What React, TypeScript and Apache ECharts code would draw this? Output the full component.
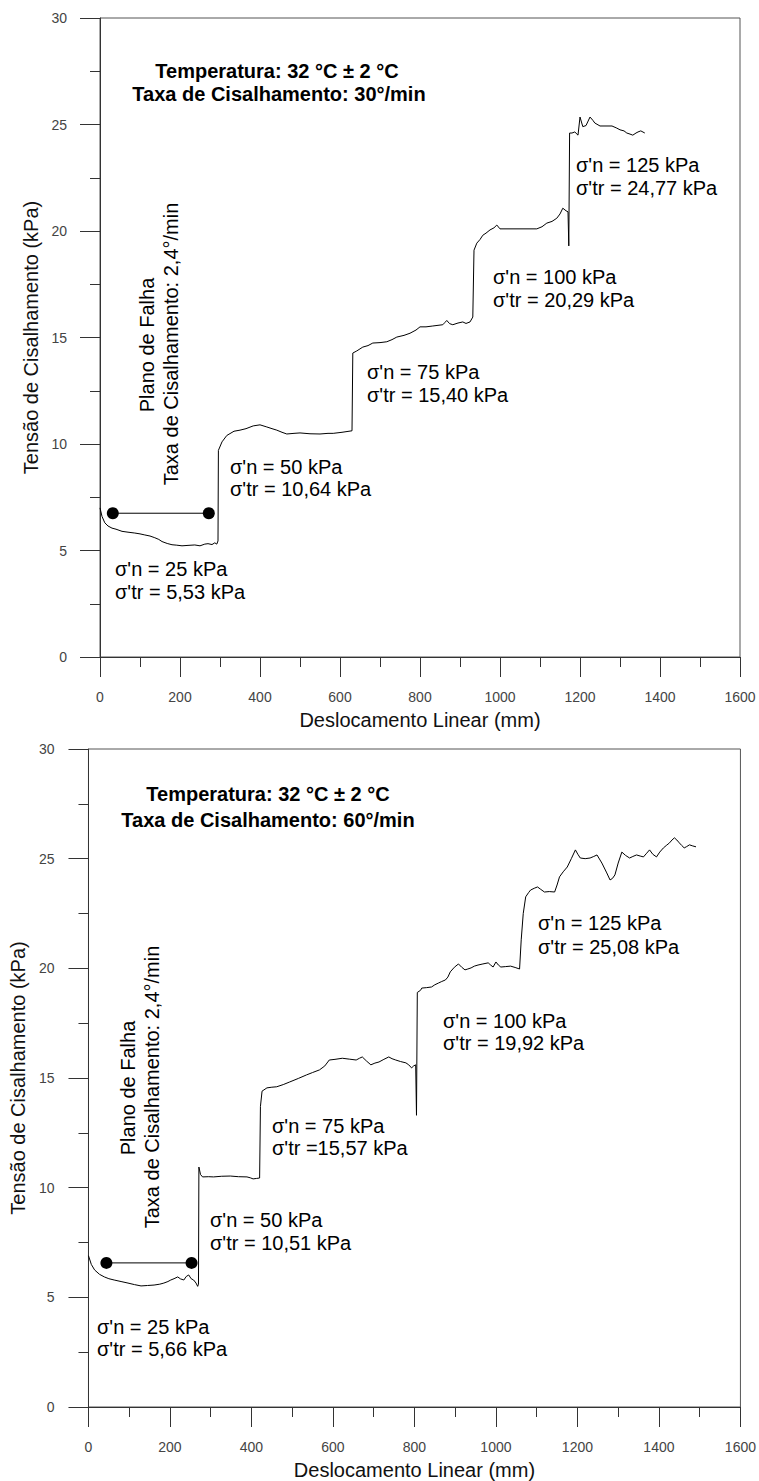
import React, { useEffect, useRef } from "react";
import * as echarts from "echarts";

// ---------- data ----------
const xTicks = [0, 200, 400, 600, 800, 1000, 1200, 1400, 1600];
const yTicks = [0, 5, 10, 15, 20, 25, 30];

// Chart 1: 30°/min
const curve30: number[][] = [
  [0, 7.0], [5, 6.6], [12, 6.3], [20, 6.15], [30, 6.05], [40, 6.0], [55, 5.9], [70, 5.86], [87, 5.82],
  [100, 5.78], [112, 5.73], [125, 5.68], [137, 5.6], [147, 5.52], [155, 5.42], [168, 5.33], [180, 5.27],
  [192, 5.25], [205, 5.22], [220, 5.24], [237, 5.26], [250, 5.22], [262, 5.3], [270, 5.32], [280, 5.28],
  [287, 5.36], [292, 5.3], [295, 5.45], [296, 9.7], [305, 10.1], [317, 10.4], [335, 10.6], [350, 10.65],
  [365, 10.72], [383, 10.85], [400, 10.9], [417, 10.8], [430, 10.72], [442, 10.65], [455, 10.55],
  [467, 10.47], [485, 10.5], [500, 10.52], [525, 10.48], [550, 10.47], [570, 10.5], [583, 10.5],
  [605, 10.55], [630, 10.62], [632, 14.27], [642, 14.37], [657, 14.55], [670, 14.62], [682, 14.74],
  [700, 14.76], [717, 14.8], [730, 14.9], [742, 15.02], [760, 15.1], [775, 15.2], [790, 15.35],
  [800, 15.5], [815, 15.5], [832, 15.54], [857, 15.6], [862, 15.7], [867, 15.8], [874, 15.65],
  [882, 15.6], [895, 15.68], [907, 15.73], [915, 15.66], [925, 15.73], [932, 15.96], [935, 19.1],
  [942, 19.43], [950, 19.6], [957, 19.8], [965, 19.9], [975, 20.05], [985, 20.15], [992, 20.28],
  [1000, 20.1], [1092, 20.1], [1105, 20.2], [1117, 20.37], [1130, 20.45], [1142, 20.6],
  [1150, 20.8], [1157, 21.07], [1165, 20.95], [1170, 20.9], [1172, 19.3], [1174, 24.6],
  [1180, 24.6], [1187, 24.65], [1195, 24.5], [1200, 25.35], [1207, 24.9], [1215, 24.95],
  [1225, 25.35], [1232, 25.2], [1237, 25.07], [1250, 24.93], [1265, 24.93], [1280, 24.93],
  [1292, 24.83], [1300, 24.75], [1310, 24.7], [1317, 24.6], [1325, 24.55], [1332, 24.5],
  [1340, 24.6], [1345, 24.65], [1352, 24.7], [1362, 24.6],
];
const failure30: number[][] = [[32, 6.75], [272, 6.75]];

// Chart 2: 60°/min
const curve60: number[][] = [
  [0, 6.9], [7, 6.5], [15, 6.25], [27, 6.05], [39, 5.93], [50, 5.85], [63, 5.79], [80, 5.72],
  [97, 5.65], [113, 5.58], [129, 5.52], [145, 5.54], [161, 5.56], [175, 5.6], [185, 5.65],
  [195, 5.72], [202, 5.79], [210, 5.85], [219, 5.93], [226, 5.84], [234, 5.79], [240, 5.95],
  [246, 6.02], [252, 5.85], [258, 5.79], [264, 5.65], [268, 5.5], [270, 5.6], [271, 10.94],
  [275, 10.6], [280, 10.49], [295, 10.5], [307, 10.49], [327, 10.52], [348, 10.53], [368, 10.5],
  [389, 10.49], [397, 10.45], [404, 10.4], [412, 10.42], [420, 10.44], [422, 13.7], [426, 14.4],
  [438, 14.55], [450, 14.58], [462, 14.6], [478, 14.7], [494, 14.82], [515, 14.98], [535, 15.14],
  [550, 15.25], [567, 15.37], [580, 15.55], [591, 15.82], [605, 15.85], [623, 15.9], [640, 15.86],
  [657, 15.82], [665, 15.9], [672, 15.96], [682, 15.78], [693, 15.6], [703, 15.68], [713, 15.73],
  [725, 15.85], [737, 15.96], [745, 15.88], [754, 15.82], [766, 15.75], [779, 15.69], [786, 15.6],
  [793, 15.46], [798, 15.55], [803, 15.6], [805, 13.3], [807, 18.9], [815, 19.0], [818, 19.1],
  [830, 19.12], [842, 19.15], [850, 19.25], [859, 19.33], [867, 19.4], [876, 19.47], [882, 19.6],
  [888, 19.84], [898, 20.05], [908, 20.2], [916, 20.05], [924, 19.93], [931, 19.97], [939, 20.02],
  [947, 20.1], [956, 20.15], [968, 20.2], [981, 20.25], [987, 20.15], [993, 20.06], [1000, 20.29],
  [1006, 20.15], [1012, 20.06], [1024, 20.08], [1036, 20.1], [1047, 20.04], [1058, 19.97],
  [1062, 21.3], [1067, 22.5], [1073, 23.26], [1080, 23.45], [1085, 23.57], [1094, 23.65],
  [1102, 23.71], [1110, 23.6], [1119, 23.48], [1131, 23.5], [1144, 23.48], [1150, 23.8],
  [1156, 24.17], [1165, 24.4], [1175, 24.62], [1185, 25.0], [1195, 25.4], [1201, 25.2],
  [1207, 25.03], [1219, 25.0], [1231, 25.03], [1240, 25.1], [1248, 25.17], [1260, 24.8],
  [1272, 24.35], [1280, 24.03], [1286, 24.1], [1292, 24.26], [1300, 24.8], [1309, 25.3],
  [1318, 25.15], [1328, 25.03], [1336, 25.1], [1345, 25.17], [1354, 25.12], [1362, 25.08],
  [1370, 25.25], [1377, 25.4], [1385, 25.2], [1394, 25.08], [1402, 25.3], [1411, 25.49],
  [1418, 25.6], [1426, 25.72], [1432, 25.85], [1438, 25.95], [1444, 25.85], [1450, 25.72],
  [1456, 25.6], [1462, 25.49], [1468, 25.55], [1475, 25.63], [1483, 25.58], [1491, 25.54],
];
const failure60: number[][] = [[44, 6.57], [253, 6.57]];

const header30 = ["Temperatura: 32 °C ± 2 °C", "Taxa de Cisalhamento: 30°/min"];
const header60 = ["Temperatura: 32 °C ± 2 °C", "Taxa de Cisalhamento: 60°/min"];
const failureText = ["Plano de Falha", "Taxa de Cisalhamento: 2,4°/min"];
const stages30 = [
  ["σ'n = 25 kPa", "σ'tr = 5,53 kPa"],
  ["σ'n = 50 kPa", "σ'tr = 10,64 kPa"],
  ["σ'n = 75 kPa", "σ'tr = 15,40 kPa"],
  ["σ'n = 100 kPa", "σ'tr = 20,29 kPa"],
  ["σ'n = 125 kPa", "σ'tr = 24,77 kPa"],
];
const stages60 = [
  ["σ'n = 25 kPa", "σ'tr = 5,66 kPa"],
  ["σ'n = 50 kPa", "σ'tr = 10,51 kPa"],
  ["σ'n = 75 kPa", "σ'tr =15,57 kPa"],
  ["σ'n = 100 kPa", "σ'tr = 19,92 kPa"],
  ["σ'n = 125 kPa", "σ'tr = 25,08 kPa"],
];

// ---------- layout (pixels) ----------
const FONT = '"Liberation Sans", Arial, sans-serif';
const grids = [
  { left: 100, top: 18, width: 640, height: 639 },
  { left: 87, top: 749, width: 658, height: 658 },
];
const stagePos30 = [[115, 569, 592], [230, 467, 489], [367, 372, 395], [493, 277, 300], [576, 165, 188]];
const stagePos60 = [[97, 1327, 1349], [210, 1220, 1243], [272, 1126, 1148], [443, 1021, 1043], [538, 923, 947]];

function App() {
  const ref = useRef<HTMLDivElement>(null);
  useEffect(() => {
    if (!ref.current) return;
    const chart = echarts.init(ref.current, undefined, { renderer: "svg" });

    const mkX = (gi: number, nameGap: number) => ({
      type: "value", gridIndex: gi, min: xTicks[0], max: xTicks[xTicks.length - 1], interval: 200,
      name: "Deslocamento Linear (mm)", nameLocation: "middle", nameGap,
      nameTextStyle: { fontFamily: FONT, fontSize: 20, color: "#111" },
      axisLine: { show: true, onZero: false, lineStyle: { color: "#333", width: 1 } },
      axisTick: { show: true, inside: false, length: 20, lineStyle: { color: "#333", width: 1 } },
      minorTick: { show: true, splitNumber: 2, length: 10, lineStyle: { color: "#333", width: 1 } },
      axisLabel: { margin: 33, fontFamily: FONT, fontSize: 14, color: "#444", formatter: (v: number) => String(v) },
      splitLine: { show: false }, minorSplitLine: { show: false },
    });
    const mkY = (gi: number, nameGap: number, margin: number) => ({
      type: "value", gridIndex: gi, min: yTicks[0], max: yTicks[yTicks.length - 1], interval: 5,
      name: "Tensão de Cisalhamento (kPa)", nameLocation: "middle", nameGap, nameRotate: 90,
      nameTextStyle: { fontFamily: FONT, fontSize: 20, color: "#111" },
      axisLine: { show: true, onZero: false, lineStyle: { color: "#333", width: 1 } },
      axisTick: { show: true, inside: false, length: 20, lineStyle: { color: "#333", width: 1 } },
      minorTick: { show: true, splitNumber: 2, length: 10, lineStyle: { color: "#333", width: 1 } },
      axisLabel: { margin, fontFamily: FONT, fontSize: 14, color: "#444", formatter: (v: number) => String(v) },
      splitLine: { show: false }, minorSplitLine: { show: false },
    });

    const lineSeries = (gi: number, data: number[][]) => ({
      type: "line", xAxisIndex: gi, yAxisIndex: gi, data, showSymbol: false, symbol: "none",
      lineStyle: { color: "#000", width: 1 }, silent: true, z: 3,
    });
    const failSeries = (gi: number, data: number[][]) => ({
      type: "line", xAxisIndex: gi, yAxisIndex: gi, data, symbol: "circle", symbolSize: 12,
      showSymbol: true, itemStyle: { color: "#000" }, lineStyle: { color: "#000", width: 1 }, z: 4,
    });

    const txt = (text: string, x: number, y: number, opts: any = {}) => ({
      type: "text", x, y, rotation: opts.rotation || 0, z: 10,
      style: {
        text, fill: "#000", font: `${opts.bold ? "bold " : ""}20px ${FONT}`,
        textAlign: opts.align || "left", textVerticalAlign: "middle",
      },
    });

    const graphics: any[] = [];
    graphics.push(txt(header30[0], 277, 71, { bold: true, align: "center" }));
    graphics.push(txt(header30[1], 279, 94, { bold: true, align: "center" }));
    graphics.push(txt(header60[0], 268, 794, { bold: true, align: "center" }));
    graphics.push(txt(header60[1], 268, 820, { bold: true, align: "center" }));
    graphics.push(txt(failureText[0], 147, 345, { align: "center", rotation: Math.PI / 2 }));
    graphics.push(txt(failureText[1], 171, 344, { align: "center", rotation: Math.PI / 2 }));
    graphics.push(txt(failureText[0], 128, 1088, { align: "center", rotation: Math.PI / 2 }));
    graphics.push(txt(failureText[1], 152, 1087, { align: "center", rotation: Math.PI / 2 }));
    stages30.forEach((s, i) => {
      const p = stagePos30[i];
      graphics.push(txt(s[0], p[0], p[1]));
      graphics.push(txt(s[1], p[0], p[2]));
    });
    stages60.forEach((s, i) => {
      const p = stagePos60[i];
      graphics.push(txt(s[0], p[0], p[1]));
      graphics.push(txt(s[1], p[0], p[2]));
    });

    chart.setOption({
      animation: false,
      backgroundColor: "#fff",
      grid: grids.map((g) => ({ ...g, show: true, borderColor: "#555", borderWidth: 1, backgroundColor: "transparent", containLabel: false })),
      xAxis: [mkX(0, 53), mkX(1, 53)],
      yAxis: [mkY(0, 57, 33), mkY(1, 58, 34)],
      series: [
        lineSeries(0, curve30), failSeries(0, failure30),
        lineSeries(1, curve60), failSeries(1, failure60),
      ],
      graphic: graphics,
    });
    return () => chart.dispose();
  }, []);
  return <div ref={ref} style={{ position: "absolute", left: 0, top: 0, width: 759, height: 1481 }} />;
}

export default App;
